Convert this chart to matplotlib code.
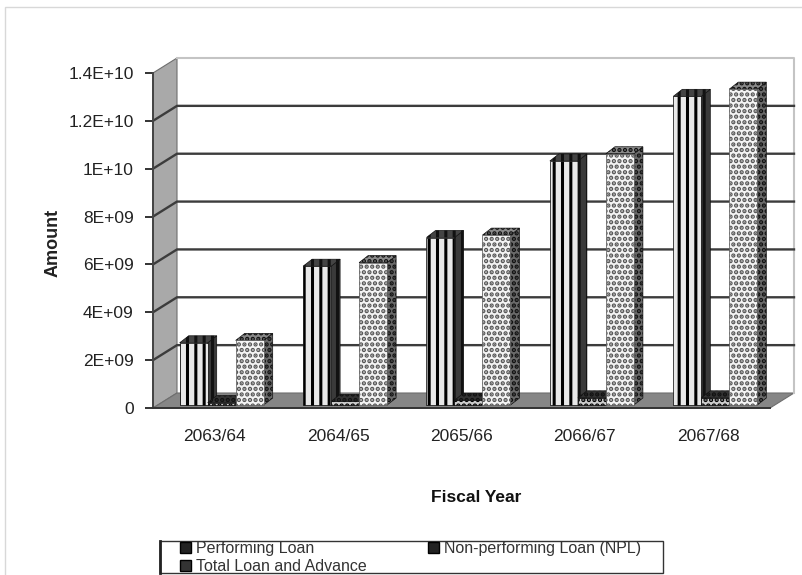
# -*- coding: utf-8 -*-
import matplotlib
matplotlib.use("Agg")
import matplotlib.pyplot as plt
from matplotlib.patches import Patch, Rectangle

plt.rcParams['font.family'] = ['Liberation Sans', 'DejaVu Sans']
plt.rcParams['hatch.linewidth'] = 2.2

years = ["2063/64", "2064/65", "2065/66", "2066/67", "2067/68"]
performing = [2.6e9, 5.8e9, 7.0e9, 10.2e9, 12.9e9]
npl = [0.1e9, 0.15e9, 0.2e9, 0.3e9, 0.3e9]
total = [2.7e9, 5.95e9, 7.1e9, 10.5e9, 13.2e9]
y_ticks = [0, 2e9, 4e9, 6e9, 8e9, 1e10, 1.2e10, 1.4e10]
y_labels = ["0", "2E+09", "4E+09", "6E+09", "8E+09", "1E+10", "1.2E+10", "1.4E+10"]

W, H = 803, 575
fig = plt.figure(figsize=(W / 100, H / 100), dpi=100)
ax = fig.add_axes([153 / W, 1 - 408 / H, 617 / W, 335 / H])
ax.set_xlim(0, 5)
ax.set_ylim(0, 1.4e10)

# pixel sizes turned into data units, for the fake 3d depth
px_x = 5 / 617
px_y = 1.4e10 / 335
wall_dx, wall_dy = 24 * px_x, 15 * px_y
bar_dx, bar_dy = 9 * px_x, 7 * px_y
base_dx, base_dy = 4 * px_x, 3 * px_y
bar_w = 28 * px_x


def poly(xs, ys, **kw):
    ax.fill(xs, ys, clip_on=False, **kw)


# walls and floor
poly([0, wall_dx, wall_dx, 0], [0, wall_dy, 1.4e10 + wall_dy, 1.4e10],
     facecolor='#a9a9a9', edgecolor='#6e6e6e', lw=0.8, zorder=1)
poly([0, wall_dx, 5 + wall_dx, 5], [0, wall_dy, wall_dy, 0],
     facecolor='#868686', edgecolor='#6e6e6e', lw=0.8, zorder=1)
ax.plot([wall_dx, 5 + wall_dx, 5 + wall_dx], [1.4e10 + wall_dy, 1.4e10 + wall_dy, wall_dy],
        color='#c4c4c4', lw=1.5, clip_on=False, zorder=1)

# gridlines run along the back wall and down the left wall
for t in y_ticks[1:-1]:
    ax.plot([0, wall_dx, 5 + wall_dx], [t, t + wall_dy, t + wall_dy],
            color='#3c3c3c', lw=1.7, clip_on=False, zorder=2)


def bar3d(x0, v, face, hatch, edge, side, top):
    x = x0 + base_dx
    y = base_dy
    poly([x + bar_w, x + bar_w + bar_dx, x + bar_w + bar_dx, x + bar_w],
         [y, y + bar_dy, y + v + bar_dy, y + v],
         facecolor=side, edgecolor='#111111', hatch=hatch, lw=0.5, zorder=3)
    poly([x, x + bar_dx, x + bar_w + bar_dx, x + bar_w],
         [y + v, y + v + bar_dy, y + v + bar_dy, y + v],
         facecolor=top, edgecolor='#111111', hatch=hatch, lw=0.5, zorder=3)
    poly([x, x + bar_w, x + bar_w, x], [y, y, y + v, y + v],
         facecolor=face, edgecolor=edge, hatch=hatch, lw=0.5, zorder=3)


stripes = '||'
dots = '...'
for i in range(len(years)):
    # three bars side by side, with a gap between the years
    left = i + 0.5 - 1.5 * bar_w + 3 * px_x
    bar3d(left, performing[i], '#e8e8e8', stripes, 'black', '#3a3a3a', '#444444')
    bar3d(left + bar_w, npl[i], '#cccccc', dots, 'black', '#333333', '#333333')
    bar3d(left + 2 * bar_w, total[i], '#f4f4f4', dots, '#555555', '#6a6a6a', '#8a8a8a')

for s in ['top', 'right']:
    ax.spines[s].set_visible(False)
ax.spines['left'].set_color('#444444')
ax.spines['left'].set_linewidth(1.4)
ax.spines['bottom'].set_color('#333333')
ax.spines['bottom'].set_linewidth(1.4)
ax.set_zorder(2)
ax.patch.set_visible(False)

ax.set_xticks([i + 0.5 for i in range(len(years))])
ax.set_xticklabels(years, fontsize=12.5, color='#222222')
ax.set_yticks(y_ticks)
ax.set_yticklabels(y_labels, fontsize=12.5, color='#222222')
ax.tick_params(axis='x', length=0, pad=15)
ax.tick_params(axis='y', length=6, width=1.4, color='#333333', pad=8)

ax.set_xlabel("Fiscal Year", fontsize=12.5, fontweight='bold', labelpad=0, color='#111111')
ax.xaxis.set_label_coords(0.523, -82 / 335)
ax.set_ylabel("Amount", fontsize=13, fontweight='bold', color='#222222')
ax.yaxis.set_label_coords(-91 / 617, 165 / 335)

handles = [Patch(facecolor='#222222', edgecolor='black'),
           Patch(facecolor='#333333', edgecolor='black'),
           Patch(facecolor='#222222', edgecolor='black')]
names = ["Performing Loan", "Total Loan and Advance", "Non-performing Loan (NPL)"]
leg = ax.legend(handles, names, ncol=2, mode='expand', fontsize=11.5, frameon=False,
                bbox_to_anchor=(178 / W, -1 / H, 465 / W, 32 / H), bbox_transform=fig.transFigure,
                loc='lower left', handlelength=0.7, handleheight=0.7, handletextpad=0.3,
                labelspacing=0.2, borderpad=0.1, borderaxespad=0, columnspacing=1)
for txt in leg.get_texts():
    txt.set_color('#333333')

# legend box, heavier on its left side
fig.add_artist(Rectangle((160 / W, 1 - 573 / H), 503 / W, 32 / H, transform=fig.transFigure,
                         fill=False, edgecolor='#333333', lw=1))
fig.add_artist(plt.Line2D([160 / W, 160 / W], [1 - 573 / H, 1 - 541 / H], color='#222222', lw=2))

# thin outline around the whole chart area
fig.add_artist(Rectangle((5 / W, -0.02), 1.0, 1.02 - 7 / H, transform=fig.transFigure,
                         fill=False, edgecolor='#d8d8d8', lw=1))

fig.savefig("out.png", dpi=100)
